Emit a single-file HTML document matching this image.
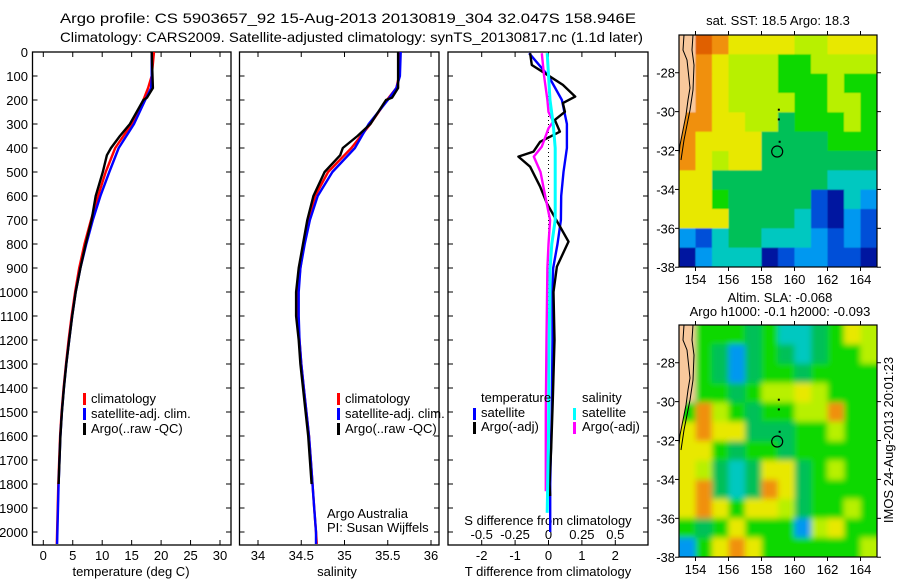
<!DOCTYPE html>
<html><head><meta charset="utf-8">
<style>
html,body{margin:0;padding:0;background:#fff;}
svg{display:block;font-family:"Liberation Sans",sans-serif;}
</style></head>
<body>
<svg id="fig" width="900" height="580" viewBox="0 0 900 580" xmlns="http://www.w3.org/2000/svg">
<defs>
<clipPath id="cm1"><rect x="679" y="35" width="198" height="232"/></clipPath>
<clipPath id="cm2"><rect x="679" y="325" width="198" height="232"/></clipPath>
<filter id="blur2" x="-5%" y="-5%" width="110%" height="110%"><feGaussianBlur stdDeviation="3"/></filter>
<filter id="blur1" x="-5%" y="-5%" width="110%" height="110%"><feGaussianBlur stdDeviation="0.6"/></filter>
</defs>
<text x="60" y="23" font-size="14" textLength="576" lengthAdjust="spacingAndGlyphs">Argo profile: CS 5903657_92 15-Aug-2013 20130819_304 32.047S 158.946E</text>
<text x="60" y="42" font-size="14" textLength="583" lengthAdjust="spacingAndGlyphs">Climatology: CARS2009. Satellite-adjusted climatology: synTS_20130817.nc (1.1d later)</text>
<g id="panels"></g>
<g id="maps"></g>
</svg>
<script>
// ---------- data ----------
const depthTicks = [0,100,200,300,400,500,600,700,800,900,1000,1100,1200,1300,1400,1500,1600,1700,1800,1900,2000];
const climDepth = [0,100,150,200,300,400,500,600,700,800,900,1000,1100,1200,1300,1400,1500,1600,1700,1800,1900,2000,2050];
const tempClim = [18.8,18.4,17.8,17.0,15.0,12.2,10.6,9.3,8.1,7.0,6.1,5.4,4.8,4.3,3.85,3.45,3.1,2.85,2.7,2.55,2.45,2.35,2.3];
const tempSat = [18.4,18.4,18.3,17.3,15.4,12.8,11.2,9.7,8.4,7.3,6.3,5.5,4.9,4.4,3.9,3.5,3.15,2.9,2.75,2.6,2.5,2.4,2.35];
const argoDepth = [0,150,190,200,300,350,400,430,500,600,700,800,900,1000,1100,1200,1300,1400,1500,1600,1700,1800];
const tempArgo = [18.4,18.6,17.6,17.0,14.7,13.0,11.5,10.8,10.1,8.9,8.2,7.2,6.3,5.5,4.9,4.4,3.9,3.5,3.15,2.9,2.75,2.6];
const salClim = [35.64,35.63,35.6,35.49,35.3,35.08,34.81,34.66,34.58,34.53,34.49,34.46,34.46,34.48,34.5,34.53,34.56,34.59,34.61,34.63,34.65,34.67,34.68];
const salSat = [35.65,35.64,35.6,35.5,35.28,35.12,34.86,34.69,34.6,34.54,34.49,34.47,34.47,34.48,34.5,34.53,34.56,34.59,34.61,34.63,34.65,34.67,34.67];
const salArgo = [35.62,35.62,35.55,35.48,35.3,35.15,34.98,34.95,34.77,34.64,34.57,34.52,34.47,34.44,34.44,34.47,34.49,34.52,34.55,34.58,34.6,34.62];
const tDiffArgoDepth = [5,54,103,137,186,213,249,283,332,374,415,436,478,561,630,790,894,1000,1200,1450,1650,1800,1850];
const tDiffArgo = [-0.55,-0.5,0.05,0.43,0.8,0.43,0.49,0.19,0.34,-0.25,-0.45,-0.9,-0.55,-0.25,-0.05,0.6,0.25,0.15,0.18,0.13,0.08,0.03,0.05];
const tDiffSatDepth = [5,100,150,200,300,400,500,600,700,800,900,1000,1200,1500,1600,1800,2000];
const tDiffSat = [-0.58,0,0.2,0.4,0.55,0.55,0.45,0.38,0.37,0.27,0.14,0.12,0.12,0.1,0.08,0.05,0.05];
const sDiffSatDepth = [5,200,300,400,500,600,700,800,900,1200,1600,1920];
const sDiffSat = [-0.01,0.011,0.035,0.05,0.05,0.05,0.05,0.025,0.012,0.005,0,-0.01];
const sDiffArgoDepth = [5,100,200,250,290,318,394,436,500,600,700,800,900,1200,1500,1830];
const sDiffArgo = [-0.05,-0.033,-0.008,0,0.035,0,-0.05,-0.11,-0.06,-0.025,0.012,0,-0.008,-0.015,-0.02,-0.02];
const tempTicks = [0,5,10,15,20,25,30];
const salTicks = [34,34.5,35,35.5,36];
const salTickLabels = ["34","34.5","35","35.5","36"];
const tDiffTicks = [-2,-1,0,1,2];
const sDiffTicks = [-0.5,-0.25,0,0.25,0.5];
const sDiffTickLabels = ["-0.5","-0.25","0","0.25","0.5"];
const lonTicks = [154,156,158,160,162,164];
const latTicks = [-28,-30,-32,-34,-36,-38];
const sstGrid = [
"sOoyyyyYYyyy","soyYYYggYYYY","soyYYYgggYgg","soyYYYYggYYg",
"ooyyYYGgggYg","oyyyyGGGGggg","oyYyyGGGGGGG","yyGGGGGGGccc",
"yygGGGGGBNcb","yyyGGGGcBNbB","bBcGGcccbBbB","NbcccNBbbBBN"];
const slaGrid = [
"sgggGgccGgyY","sgGbGgGcGggY","sgGbGggGgggg","sggGgYYyYggg",
"goYgGggYYogg","yoyyGGGggYgg","yygGggGggggg","yYGcGyyGgYgg",
"yoGcGoyGgggg","yoygyyYGggYg","gGgygggbYygg","bgyoyggggggY"];

// ---------- helpers ----------
const NS = "http://www.w3.org/2000/svg";
function mk(tag, attrs, parent){const e=document.createElementNS(NS,tag);for(const k in attrs)e.setAttribute(k,attrs[k]);parent.appendChild(e);return e;}
const yTop=52, yBot=545;
const yD = d => yTop + d*0.24;
const xT = t => 43.3 + t*5.89;
const xS = s => 258 + (s-34)*86.5;
const xTD = t => 548.5 + t*33.4;
const xSD = s => 548.5 + s*133.6;
const panels = document.getElementById('panels');
function line(xs, ds, fx, color, name, w){
  const pts = xs.map((v,i)=>fx(v).toFixed(1)+","+yD(ds[i]).toFixed(1)).join(" ");
  const p = mk('polyline',{points:pts,fill:'none',stroke:color,'stroke-width':w||2.4,'stroke-linejoin':'round'},panels);
  
  
}
function frame(x0,x1,name){
  const r = mk('rect',{x:x0,y:yTop,width:x1-x0,height:yBot-yTop,fill:'none',stroke:'#000','stroke-width':1.3},panels);
  
  
  depthTicks.forEach(d=>{
    mk('line',{x1:x0,x2:x0+5,y1:yD(d),y2:yD(d),stroke:'#000','stroke-width':1},panels);
    mk('line',{x1:x1-5,x2:x1,y1:yD(d),y2:yD(d),stroke:'#000','stroke-width':1},panels);
  });
}
function xTicks(vals, fx, labels, ly, name){
  vals.forEach((v,i)=>{
    const x=fx(v);
    mk('line',{x1:x,x2:x,y1:yBot,y2:yBot-5,stroke:'#000'},panels);
    mk('line',{x1:x,x2:x,y1:yTop,y2:yTop+5,stroke:'#000'},panels);
    const t=mk('text',{x:x,y:ly,'font-size':13,'text-anchor':'middle'},panels);
    t.textContent=labels[i];
    
    
  });
}
function txt(x,y,s,name,size,anchor,extra){
  const t=mk('text',Object.assign({x:x,y:y,'font-size':size||13,'text-anchor':anchor||'start'},extra||{}),panels);
  t.textContent=s;
  
  
  return t;
}
function legBar(x,y,color,name){
  const r=mk('rect',{x:x,y:y,width:3,height:12,fill:color},panels);
  
  
}

// ---------- panel 1: temperature ----------
frame(32.5,231,'temperature-panel');
depthTicks.forEach(d=>txt(28,yD(d)+5,String(d),'depth-tick-label',13,'end'));
xTicks(tempTicks,xT,tempTicks.map(String),560,'temperature-tick-label');
txt(131,576,'temperature (deg C)','temperature-axis-title',13,'middle');
line(tempClim,climDepth,xT,'#ff0000','temperature-climatology-line');
line(tempSat,climDepth,xT,'#0000ff','temperature-satellite-line');
line(tempArgo,argoDepth,xT,'#000000','temperature-argo-line');
legBar(83,393,'#ff0000','legend-climatology-swatch');txt(91,403,'climatology','legend-climatology');
legBar(83,408,'#0000ff','legend-satellite-swatch');txt(91,418,'satellite-adj. clim.','legend-satellite');
legBar(83,423,'#000000','legend-argo-swatch');txt(91,433,'Argo(..raw -QC)','legend-argo');

// ---------- panel 2: salinity ----------
frame(239.5,439,'salinity-panel');
xTicks(salTicks,xS,salTickLabels,560,'salinity-tick-label');
txt(337,576,'salinity','salinity-axis-title',13,'middle');
line(salClim,climDepth,xS,'#ff0000','salinity-climatology-line');
line(salSat,climDepth,xS,'#0000ff','salinity-satellite-line');
line(salArgo,argoDepth,xS,'#000000','salinity-argo-line');
legBar(337,393,'#ff0000','legend-climatology-swatch');txt(345,403,'climatology','legend-climatology');
legBar(337,408,'#0000ff','legend-satellite-swatch');txt(345,418,'satellite-adj. clim.','legend-satellite');
legBar(337,423,'#000000','legend-argo-swatch');txt(345,433,'Argo(..raw -QC)','legend-argo');
txt(327,518,'Argo Australia','credit-argo-australia');
txt(327,532,'PI: Susan Wijffels','credit-pi');

// ---------- panel 3: differences ----------
frame(448,648,'difference-panel');
mk('line',{x1:xTD(0),x2:xTD(0),y1:yTop,y2:yD(1800),stroke:'#000','stroke-width':1,'stroke-dasharray':'1,3'},panels);
xTicks(tDiffTicks,xTD,tDiffTicks.map(String),560,'t-difference-tick-label');
sDiffTicks.forEach((v,i)=>txt(xSD(v),539,sDiffTickLabels[i],'s-difference-tick-label',13,'middle'));
txt(548,525,'S difference from climatology','s-difference-axis-title',13,'middle');
txt(548,576,'T difference from climatology','t-difference-axis-title',13,'middle');
line(tDiffSat,tDiffSatDepth,xTD,'#0000ff','t-diff-satellite-line');
line(tDiffArgo,tDiffArgoDepth,xTD,'#000000','t-diff-argo-line');
line(sDiffArgo,sDiffArgoDepth,xSD,'#ff00ff','s-diff-argo-line');
line(sDiffSat,sDiffSatDepth,xSD,'#00ffff','s-diff-satellite-line',3);
txt(481,402,'temperature','legend-temperature-heading');
legBar(473,408,'#0000ff','legend-t-satellite-swatch');txt(481,417,'satellite','legend-t-satellite');
legBar(473,422,'#000000','legend-t-argo-swatch');txt(481,431,'Argo(-adj)','legend-t-argo');
txt(582,402,'salinity','legend-salinity-heading');
legBar(573,408,'#00ffff','legend-s-satellite-swatch');txt(582,417,'satellite','legend-s-satellite');
legBar(573,422,'#ff00ff','legend-s-argo-swatch');txt(582,431,'Argo(-adj)','legend-s-argo');

// ---------- maps ----------
const maps=document.getElementById('maps');
const COL={s:'#f8c89c',O:'#e06000',o:'#f09010',y:'#e8e800',Y:'#b8f000',g:'#10d800',G:'#00c058',c:'#00c8c0',b:'#0098f0',B:'#0050d8',N:'#0018a0'};
const mx0=679, mw=198, mh=232;
const lonX = lon => mx0 + (lon-153)*16.5;
function drawMap(grid, top, clipId, blur, name){
  const g=mk('g',{'clip-path':'url(#'+clipId+')'},maps);
  
  
  const inner=mk('g',{filter:'url(#'+blur+')'},g);
  const cw=mw/12, ch=mh/12;
  mk('rect',{x:mx0-10,y:top-10,width:mw+20,height:mh+20,fill:'#10d800'},inner);
  grid.forEach((row,r)=>{[...row].forEach((k,c)=>{
    const x0 = c===0? mx0-10 : mx0+c*cw, x1 = c===11? mx0+mw+10 : mx0+(c+1)*cw;
    const y0 = r===0? top-10 : top+r*ch, y1 = r===11? top+mh+10 : top+(r+1)*ch;
    mk('rect',{x:x0,y:y0,width:x1-x0+0.5,height:y1-y0+0.5,fill:COL[k]},inner);
  });});
  const land=[[679,0],[684,0],[683,15],[687,25],[690,53],[688,65],[686,80],[683,95],[680,110],[679,120]];
  mk('polygon',{points:land.map(p=>p[0]+','+(p[1]+top)).join(' '),fill:COL.s},g);
  mk('polyline',{points:land.slice(1).map(p=>p[0]+','+(p[1]+top)).join(' '),fill:'none',stroke:'#000','stroke-width':1},g);
  const iso=[[693,0],[692,15],[694,30],[693,55],[690,75],[687,90],[684,105],[681,125]];
  mk('polyline',{points:iso.map(p=>p[0]+','+(p[1]+top)).join(' '),fill:'none',stroke:'#000','stroke-width':1},g);
  const fr=mk('rect',{x:mx0,y:top,width:mw,height:mh,fill:'none',stroke:'#000','stroke-width':1.2},maps);
  
  
  const latY = lat => top + (-26.06-lat)*19.45;
  lonTicks.forEach(l=>{
    const x=lonX(l);
    mk('line',{x1:x,x2:x,y1:top+mh,y2:top+mh+4,stroke:'#000'},maps);
    mk('line',{x1:x,x2:x,y1:top,y2:top-4,stroke:'#000'},maps);
    const t=mk('text',{x:x,y:top+mh+17,'font-size':13,'text-anchor':'middle'},maps);t.textContent=String(l);
    
    
  });
  latTicks.forEach(l=>{
    const y=latY(l);
    mk('line',{x1:mx0-4,x2:mx0,y1:y,y2:y,stroke:'#000'},maps);
    mk('line',{x1:mx0+mw,x2:mx0+mw+4,y1:y,y2:y,stroke:'#000'},maps);
    const t=mk('text',{x:mx0-4,y:y+5,'font-size':13,'text-anchor':'end'},maps);t.textContent=String(l);
    
    
  });
  const c=mk('circle',{cx:lonX(158.95),cy:latY(-32.05),r:5.5,fill:'none',stroke:'#000','stroke-width':1.2},maps);
  
  
  [[159.05,-29.9],[159.05,-30.4],[159.1,-31.55]].forEach(p=>{
    mk('rect',{x:lonX(p[0])-1,y:latY(p[1])-1,width:2,height:2,fill:'#000'},maps);
  });
}
drawMap(sstGrid,35,'cm1','blur1','sst-map');
drawMap(slaGrid,325,'cm2','blur2','sla-map');
function mt(x,y,s,name,extra){const t=mk('text',Object.assign({x:x,y:y,'font-size':13,'text-anchor':'middle'},extra||{}),maps);t.textContent=s;
  
  }
mt(778,25,'sat. SST: 18.5 Argo: 18.3','sst-map-title');
mt(780,302,'Altim. SLA: -0.068','sla-map-title');
mt(780,316,'Argo h1000: -0.1 h2000: -0.093','sla-map-subtitle');
mt(893,440,'IMOS 24-Aug-2013 20:01:23','imos-timestamp',{transform:'rotate(-90 893 440)'});
</script>
</body></html>
